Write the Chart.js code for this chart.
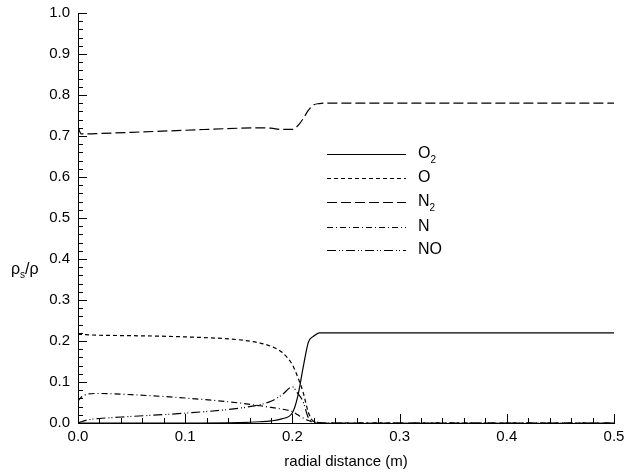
<!DOCTYPE html>
<html>
<head>
<meta charset="utf-8">
<script src="https://cdn.jsdelivr.net/npm/chart.js@4"></script>
<style>
  html, body { margin: 0; padding: 0; background: #fff; }
  #wrap { width: 625px; height: 472px; }
</style>
</head>
<body>
<div id="wrap"><canvas id="chart" width="625" height="472"></canvas></div>
<script>
const xs = [0, 0.003, 0.01, 0.02, 0.05, 0.1, 0.15, 0.17, 0.18, 0.19, 0.2, 0.205, 0.21, 0.215, 0.22, 0.225, 0.23, 0.25, 0.3, 0.4, 0.5];

// mass fractions per species
const o2 = [0, 0, 0, 0, 0, 0, 0.001, 0.003, 0.005, 0.01, 0.025, 0.065, 0.135, 0.198, 0.212, 0.22, 0.22, 0.22, 0.22, 0.22, 0.22];
const o  = [0.216, 0.216, 0.215, 0.214, 0.213, 0.21, 0.203, 0.195, 0.187, 0.173, 0.142, 0.112, 0.075, 0.025, 0.003, 0, 0, 0, 0, 0, 0];
const n2 = [0.722, 0.705, 0.705, 0.706, 0.709, 0.714, 0.719, 0.72, 0.719, 0.716, 0.716, 0.725, 0.742, 0.763, 0.776, 0.779, 0.78, 0.78, 0.78, 0.78, 0.78];
const n  = [0.054, 0.063, 0.071, 0.072, 0.069, 0.061, 0.049, 0.042, 0.038, 0.034, 0.028, 0.02, 0.012, 0.006, 0.002, 0.001, 0, 0, 0, 0, 0];
const no = [0, 0.003, 0.008, 0.011, 0.016, 0.024, 0.036, 0.045, 0.053, 0.068, 0.088, 0.072, 0.052, 0.012, 0.004, 0.001, 0, 0, 0, 0, 0];

const xTicks = [0, 0.1, 0.2, 0.3, 0.4, 0.5];
const yTicks = [0, 0.1, 0.2, 0.3, 0.4, 0.5, 0.6, 0.7, 0.8, 0.9, 1.0];

// legend entries: [main text, subscript]
const species = [["O", "2"], ["O", ""], ["N", "2"], ["N", ""], ["NO", ""]];
const dashes = [[], [4, 3], [10, 4], [6, 3, 1, 3], [9, 3, 1, 2, 1, 3]];
const seriesData = [o2, o, n2, n, no];

const FONT = "Liberation Sans, Arial, Helvetica, sans-serif";

const datasets = seriesData.map((vals, i) => ({
    label: species[i].join(""),
    data: vals.map((v, k) => ({ x: xs[k], y: v })),
    borderColor: "#000",
    borderWidth: 1.2,
    borderDash: dashes[i],
    pointRadius: 0,
    fill: false,
    cubicInterpolationMode: "monotone"
}));

// inward ticks, legend and axis titles
const decor = {
    id: "decor",
    afterDraw(chart) {
        const ctx = chart.ctx;
        const xs_ = chart.scales.x, ys_ = chart.scales.y;
        const a = chart.chartArea;
        ctx.save();
        ctx.strokeStyle = "#000";
        ctx.lineWidth = 1;
        ctx.setLineDash([]);
        // y ticks
        for (let i = 0; i <= 50; i++) {
            const v = i * 0.02;
            const py = Math.round(ys_.getPixelForValue(v)) + 0.5;
            const len = (i % 5 === 0) ? 9 : 5;
            ctx.beginPath();
            ctx.moveTo(a.left, py);
            ctx.lineTo(a.left + len, py);
            ctx.stroke();
        }
        // x ticks
        for (let i = 0; i <= 25; i++) {
            const v = i * 0.02;
            const px = Math.round(xs_.getPixelForValue(v)) + 0.5;
            const len = (i % 5 === 0) ? 9 : 5;
            ctx.beginPath();
            ctx.moveTo(px, a.bottom);
            ctx.lineTo(px, a.bottom - len);
            ctx.stroke();
        }
        // legend
        const rows = [154, 178, 202, 227, 250];
        ctx.lineWidth = 1.2;
        rows.forEach((ry, i) => {
            ctx.setLineDash(dashes[i]);
            ctx.beginPath();
            ctx.moveTo(327, ry + 0.5);
            ctx.lineTo(406, ry + 0.5);
            ctx.stroke();
            ctx.setLineDash([]);
            ctx.fillStyle = "#000";
            ctx.textBaseline = "middle";
            ctx.textAlign = "left";
            ctx.font = "16px " + FONT;
            ctx.fillText(species[i][0], 418, ry);
            if (species[i][1]) {
                const w = ctx.measureText(species[i][0]).width;
                ctx.font = "10px " + FONT;
                ctx.fillText(species[i][1], 418 + w, ry + 6);
            }
        });
        // y title: rho_s / rho
        ctx.fillStyle = "#000";
        ctx.textBaseline = "middle";
        ctx.textAlign = "left";
        ctx.font = "16px " + FONT;
        let tx = 11, ty = 270;
        ctx.fillText("ρ", tx, ty);
        tx += ctx.measureText("ρ").width;
        ctx.font = "10px " + FONT;
        ctx.fillText("s", tx, ty + 5);
        tx += ctx.measureText("s").width;
        ctx.font = "16px " + FONT;
        ctx.fillText("/ρ", tx, ty);
        // x title
        ctx.textAlign = "center";
        ctx.font = "15px " + FONT;
        ctx.fillText("radial distance (m)", (a.left + a.right) / 2, 462);
        ctx.restore();
    }
};

new Chart(document.getElementById("chart"), {
    type: "line",
    data: { datasets: datasets },
    options: {
        responsive: false,
        animation: false,
        layout: { padding: { top: 13, right: 11, left: 0, bottom: 0 } },
        plugins: { legend: { display: false }, tooltip: { enabled: false } },
        scales: {
            x: {
                type: "linear",
                min: 0, max: 0.5,
                afterBuildTicks: (s) => { s.ticks = xTicks.map(v => ({ value: v })); },
                afterFit: (s) => { s.height = 49; s.paddingRight = 0; s.paddingLeft = 0; },
                grid: { display: false, drawTicks: false },
                border: { display: true, color: "#000", width: 1 },
                ticks: {
                    color: "#000",
                    font: { size: 15, family: FONT },
                    padding: 5,
                    maxRotation: 0,
                    callback: (v) => v.toFixed(1)
                }
            },
            y: {
                type: "linear",
                min: 0, max: 1,
                afterBuildTicks: (s) => { s.ticks = yTicks.map(v => ({ value: v })); },
                afterFit: (s) => { s.width = 78; s.paddingTop = 0; s.paddingBottom = 0; },
                grid: { display: false, drawTicks: false },
                border: { display: true, color: "#000", width: 1 },
                ticks: {
                    color: "#000",
                    font: { size: 15, family: FONT },
                    padding: 8,
                    callback: (v) => v.toFixed(1)
                }
            }
        }
    },
    plugins: [decor]
});
</script>
</body>
</html>
